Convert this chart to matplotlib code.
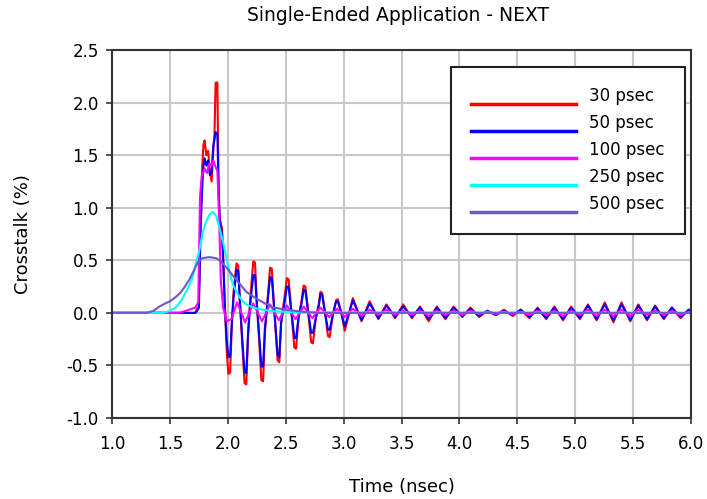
import matplotlib
matplotlib.use("Agg")
import matplotlib.pyplot as plt
from matplotlib.lines import Line2D
from matplotlib.legend_handler import HandlerLine2D

plt.rcParams['font.family'] = ['DejaVu Sans']
plt.rcParams['axes.unicode_minus'] = False

# ---------------- data (time in nsec, crosstalk in %) ----------------
t_early = [1.00, 1.72, 1.735, 1.75, 1.765, 1.78, 1.79, 1.80, 1.815, 1.83, 1.845, 1.86,
           1.875, 1.885, 1.895, 1.91, 1.92, 1.93, 1.95, 1.96, 1.975, 1.99, 2.005, 2.02,
           2.035, 2.05, 2.075, 2.09, 2.105, 2.125, 2.145, 2.16, 2.175, 2.195, 2.22, 2.235,
           2.25, 2.27, 2.29, 2.305, 2.32, 2.345, 2.365, 2.38, 2.40, 2.43, 2.445, 2.46,
           2.49, 2.51, 2.525, 2.55, 2.575, 2.59, 2.61, 2.635, 2.655, 2.67, 2.695, 2.72,
           2.735, 2.76, 2.785, 2.80, 2.815, 2.84, 2.865, 2.88, 2.905, 2.935, 2.95, 2.98]
t_late = [3.01, 3.08, 3.155, 3.225, 3.30, 3.37, 3.445, 3.515, 3.59, 3.66, 3.735, 3.805,
          3.88, 3.95, 4.025, 4.095, 4.17, 4.24, 4.315, 4.385, 4.46, 4.53, 4.605, 4.675,
          4.75, 4.82, 4.895, 4.965, 5.04, 5.11, 5.185, 5.255, 5.33, 5.40, 5.475, 5.545,
          5.62, 5.69, 5.765, 5.835, 5.91, 5.98, 6.00]

red_early = [0, 0, 0.04, 0.05, 0.90, 1.40, 1.60, 1.64, 1.50, 1.54, 1.35, 1.25,
             1.55, 1.70, 2.19, 2.19, 1.20, 0.90, 0.80, 0.55, 0.05, -0.35, -0.58, -0.57,
             -0.10, 0.20, 0.47, 0.45, 0.10, -0.30, -0.67, -0.68, -0.20, 0.15, 0.49, 0.48,
             0.10, -0.25, -0.64, -0.65, -0.20, 0.15, 0.43, 0.42, 0.05, -0.45, -0.47, -0.10,
             0.15, 0.33, 0.32, 0.00, -0.33, -0.34, -0.05, 0.10, 0.26, 0.25, 0.00, -0.28,
             -0.29, -0.05, 0.08, 0.20, 0.19, 0.00, -0.22, -0.23, -0.03, 0.12, 0.13, 0.00]
red_late = [-0.17, 0.14, -0.08, 0.11, -0.06, 0.08, -0.05, 0.08, -0.05, 0.06, -0.08, 0.06,
            -0.06, 0.06, -0.04, 0.05, -0.04, 0.02, -0.02, 0.03, -0.03, 0.03, -0.05, 0.05,
            -0.06, 0.06, -0.07, 0.06, -0.06, 0.08, -0.07, 0.10, -0.09, 0.10, -0.08, 0.08,
            -0.07, 0.07, -0.06, 0.05, -0.05, 0.03, 0.02]

blue_early = [0, 0, 0.02, 0.05, 0.80, 1.21, 1.40, 1.47, 1.40, 1.45, 1.31, 1.33,
              1.59, 1.65, 1.72, 1.70, 1.20, 0.88, 0.75, 0.50, 0.05, -0.25, -0.42, -0.42,
              -0.10, 0.15, 0.41, 0.40, 0.10, -0.25, -0.57, -0.57, -0.20, 0.10, 0.36, 0.36,
              0.10, -0.20, -0.51, -0.51, -0.15, 0.12, 0.34, 0.33, 0.05, -0.40, -0.42, -0.10,
              0.10, 0.25, 0.25, 0.00, -0.24, -0.24, -0.05, 0.08, 0.22, 0.21, 0.00, -0.19,
              -0.19, -0.05, 0.06, 0.18, 0.17, 0.00, -0.16, -0.16, -0.03, 0.11, 0.11, 0.00]
blue_late = [-0.13, 0.12, -0.07, 0.09, -0.05, 0.07, -0.04, 0.06, -0.04, 0.05, -0.06, 0.05,
             -0.05, 0.05, -0.03, 0.04, -0.03, 0.02, -0.02, 0.02, -0.02, 0.03, -0.04, 0.04,
             -0.05, 0.05, -0.06, 0.05, -0.05, 0.07, -0.06, 0.08, -0.07, 0.08, -0.07, 0.07,
             -0.06, 0.06, -0.05, 0.05, -0.04, 0.03, 0.02]

t_mag_early = [1.00, 1.58, 1.64, 1.72, 1.745, 1.76, 1.775, 1.80, 1.82, 1.84, 1.86, 1.875,
               1.89, 1.91, 1.925, 1.94, 1.96, 1.99, 2.03, 2.08, 2.15, 2.22, 2.295, 2.365,
               2.44, 2.51, 2.585, 2.655, 2.73, 2.80, 2.875, 2.945]
mag_early = [0, 0, 0.02, 0.05, 0.10, 1.10, 1.30, 1.37, 1.33, 1.42, 1.40, 1.45,
             1.40, 1.35, 0.90, 0.30, 0.05, -0.08, -0.06, 0.10, -0.09, 0.09, -0.08, 0.08,
             -0.07, 0.07, -0.06, 0.06, -0.05, 0.05, -0.04, 0.04]
mag_late = [-0.04, 0.04, -0.03, 0.03, -0.02, 0.03, -0.02, 0.02, -0.02, 0.02, -0.03, 0.02,
            -0.02, 0.02, -0.02, 0.02, -0.01, 0.01, -0.01, 0.01, -0.01, 0.01, -0.02, 0.02,
            -0.02, 0.02, -0.03, 0.02, -0.02, 0.03, -0.03, 0.03, -0.03, 0.03, -0.03, 0.03,
            -0.02, 0.02, -0.02, 0.02, -0.02, 0.01, 0.01]

t_cyan = [1.00, 1.45, 1.50, 1.55, 1.60, 1.65, 1.69, 1.72, 1.76, 1.78, 1.81, 1.84, 1.87,
          1.90, 1.93, 1.96, 2.00, 2.04, 2.08, 2.12, 2.16, 2.22, 2.30, 2.40, 2.60, 6.00]
cyan_v = [0, 0, 0.02, 0.05, 0.12, 0.22, 0.32, 0.45, 0.62, 0.75, 0.86, 0.93, 0.96,
          0.92, 0.80, 0.67, 0.46, 0.28, 0.19, 0.12, 0.08, 0.05, 0.03, 0.015, 0.005, 0]

t_purple = [1.00, 1.30, 1.36, 1.41, 1.46, 1.50, 1.55, 1.59, 1.63, 1.67, 1.71, 1.74, 1.78,
            1.84, 1.90, 1.94, 1.99, 2.04, 2.10, 2.16, 2.24, 2.32, 2.40, 2.50, 2.65, 2.80, 6.00]
purple_v = [0, 0, 0.02, 0.06, 0.09, 0.11, 0.15, 0.19, 0.25, 0.32, 0.41, 0.48, 0.52,
            0.53, 0.52, 0.49, 0.43, 0.36, 0.28, 0.20, 0.14, 0.09, 0.05, 0.03, 0.01, 0.0, 0]

labels = ["30 psec", "50 psec", "100 psec", "250 psec", "500 psec"]
colors = ["#ff0000", "#0000ff", "#ff00ff", "#00ffff", "#6a5acd"]

xticks = [1.0, 1.5, 2.0, 2.5, 3.0, 3.5, 4.0, 4.5, 5.0, 5.5, 6.0]
yticks = [-1.0, -0.5, 0.0, 0.5, 1.0, 1.5, 2.0, 2.5]

series = [
    (t_early + t_late, red_early + red_late),
    (t_early + t_late, blue_early + blue_late),
    (t_mag_early + t_late, mag_early + mag_late),
    (t_cyan, cyan_v),
    (t_purple, purple_v),
]


class LoweredLine(HandlerLine2D):
    """Legend line drawn a little below the label's centre, as in the reference."""
    def create_artists(self, legend, orig_handle, xdescent, ydescent, width, height,
                       fontsize, trans):
        return super().create_artists(legend, orig_handle, xdescent, ydescent + 12,
                                      width, height, fontsize, trans)


# ---------------- figure ----------------
fig = plt.figure(figsize=(7.07, 4.99), dpi=100)
ax = fig.add_axes([0.1584, 0.1623, 0.8190, 0.7375])

for (tx, vy), lab, col in zip(series, labels, colors):
    ax.plot(tx, vy, color=col, lw=1.5, label=lab)

ax.set_xlim(1.0, 6.0)
ax.set_ylim(-1.0, 2.5)
ax.set_xticks(xticks)
ax.set_yticks(yticks)
ax.set_xticklabels([f"{v:.1f}" for v in xticks])
ax.set_yticklabels([f"{v:.1f}" for v in yticks])
ax.grid(True, color="#c8c8c8", lw=1.5)
ax.set_axisbelow(True)
for s in ax.spines.values():
    s.set_color("#333333")
    s.set_linewidth(1.5)
ax.tick_params(direction="out", length=4, width=1.2, colors="#333333",
               labelcolor="black", labelsize=12)
ax.tick_params(axis="x", pad=8)
ax.tick_params(axis="y", pad=5.5)

ax.set_xlabel("Time (nsec)", fontsize=13, labelpad=18)
ax.set_ylabel("Crosstalk (%)", fontsize=13, labelpad=25)
fig.text(0.563, 0.968, "Single-Ended Application - NEXT", ha="center", va="center",
         fontsize=13.5)

leg = ax.legend(loc="upper right", bbox_to_anchor=(0.99, 0.955), borderaxespad=0,
                fontsize=12, handlelength=6.3, handletextpad=0.75, borderpad=1.25,
                labelspacing=0.54, fancybox=False, framealpha=1, edgecolor="#222222",
                handler_map={Line2D: LoweredLine()})
leg.get_frame().set_linewidth(1.5)
for ln in leg.get_lines():
    ln.set_linewidth(2.5)

fig.savefig("out.png", dpi=100)
